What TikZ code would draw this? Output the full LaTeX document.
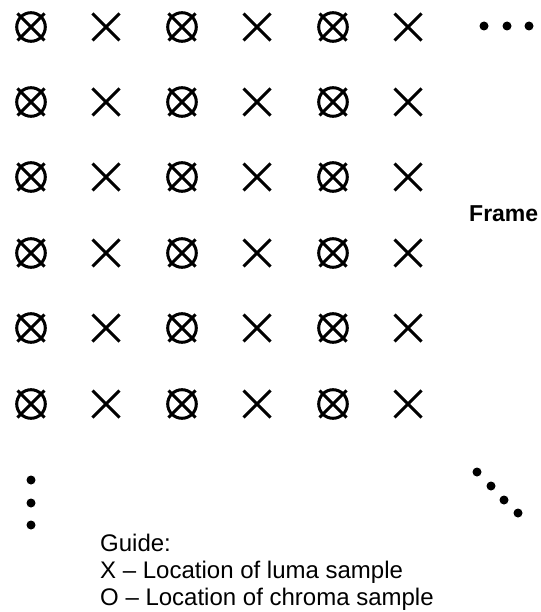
\documentclass[tikz,border=0pt]{standalone}
\usepackage{fontspec}
\setmainfont{Liberation Sans}
\begin{document}
\begin{tikzpicture}[x=1pt,y=-1pt,
  samp/.style={line width=3pt},
  dotmark/.style={fill=black},
  guide/.style={anchor=base west,inner sep=0pt,font=\fontsize{24}{27}\selectfont},
]
\useasboundingbox (0,0) rectangle (540,612);
\foreach \r [count=\i] in {27,102,177,253,328,404}{
  \foreach \c [count=\j] in {31,106,182,257,333,408}{
    \coordinate (p\i-\j) at (\c,\r);
    \draw[samp] ([shift={(-13.5,-13.5)}]p\i-\j) -- ([shift={(13.5,13.5)}]p\i-\j)
                ([shift={(-13.5,13.5)}]p\i-\j) -- ([shift={(13.5,-13.5)}]p\i-\j);
    \ifodd\j
      \draw[samp] (p\i-\j) circle (14.3);
    \fi
  }
}
% dots
\foreach \x in {484,507,529} \fill[dotmark] (\x,26) circle (4.5);
\foreach \y in {480,503,525} \fill[dotmark] (31,\y) circle (4.5);
\foreach \x/\y in {477/472,491/486,504/500,518/513} \fill[dotmark] (\x,\y) circle (4.5);
\node[anchor=base west,inner sep=0pt,font=\fontsize{23}{26}\selectfont\bfseries] (frame) at (469,222) {Frame};
\node[guide] (g1) at (100,551) {Guide:};
\node[guide] (g2) at (100,578) {X -- Location of luma sample};
\node[guide] (g3) at (100,605) {O -- Location of chroma sample};
\end{tikzpicture}
\end{document}
